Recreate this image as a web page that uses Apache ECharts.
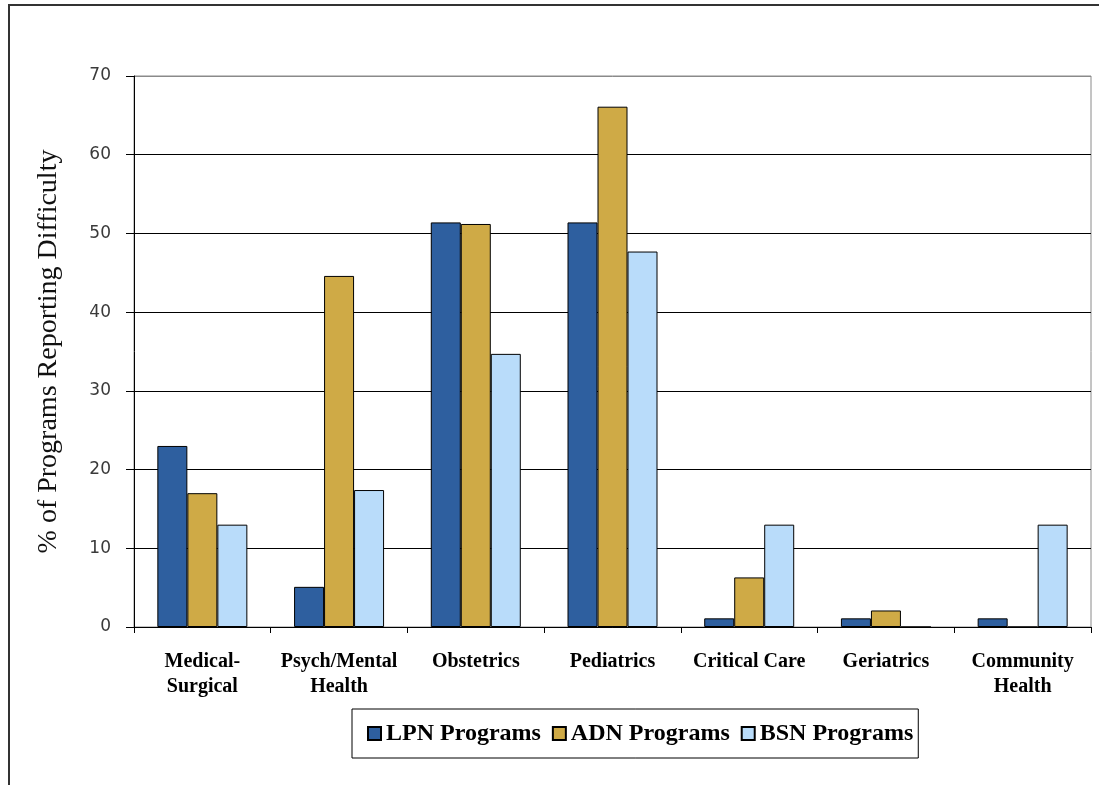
<!DOCTYPE html>
<html>
<head>
<meta charset="utf-8">
<script src="https://cdn.jsdelivr.net/npm/echarts@6/dist/echarts.min.js"></script>
<style>
html,body{margin:0;padding:0;background:#fff;}
#chart{width:1099px;height:785px;}
</style>
</head>
<body>
<div id="chart"></div>
<script>
var categories = ['Medical-\nSurgical', 'Psych/Mental\nHealth', 'Obstetrics', 'Pediatrics', 'Critical Care', 'Geriatrics', 'Community\nHealth'];
var seriesNames = ['LPN Programs', 'ADN Programs', 'BSN Programs'];
var lpnValues = [23.0, 5.1, 51.4, 51.4, 1.1, 1.1, 1.1];
var adnValues = [17.0, 44.6, 51.2, 66.1, 6.3, 2.1, 0];
var bsnValues = [13.0, 17.4, 34.7, 47.7, 13.0, 0, 13.0];
var yTicks = [0, 10, 20, 30, 40, 50, 60, 70];

var colors = ['#2E5F9F', '#CFAA46', '#B9DCFA'];
var serif = '"Liberation Serif", "Times New Roman", serif';

var chart = echarts.init(document.getElementById('chart'));
function mk(name, data, color) {
  return {
    name: name, type: 'bar', data: data, barWidth: 30, barGap: '0%',
    itemStyle: { color: color, borderColor: '#000', borderWidth: 1 }
  };
}
chart.setOption({
  animation: false,
  backgroundColor: '#fff',
  graphic: [{
    type: 'rect', silent: true, z: -1,
    shape: { x: 9, y: 5, width: 1300, height: 1000 },
    style: { fill: 'none', stroke: '#333', lineWidth: 2 }
  }],
  grid: { left: 134, right: 8, top: 76, bottom: 158, show: true, borderColor: '#8a8a8a', borderWidth: 1, containLabel: false },
  legend: {
    data: seriesNames, left: 352, top: 709,
    orient: 'horizontal', icon: 'rect', itemWidth: 13, itemHeight: 13, itemGap: 11,
    padding: [12, 5, 12, 15], borderColor: '#000', borderWidth: 1,
    textStyle: { fontFamily: serif, fontWeight: 'bold', fontSize: 24, lineHeight: 25, color: '#000' }
  },
  xAxis: {
    type: 'category', data: categories,
    axisLine: { lineStyle: { color: '#000', width: 1 } },
    axisTick: { show: true, length: 6, lineStyle: { color: '#000' } },
    axisLabel: { interval: 0, margin: 22, fontFamily: serif, fontWeight: 'bold', fontSize: 20, lineHeight: 25, color: '#000' }
  },
  yAxis: {
    type: 'value', min: 0, max: 70, interval: 10,
    name: '% of Programs Reporting Difficulty', nameLocation: 'middle', nameGap: 71,
    nameTextStyle: { fontFamily: serif, fontWeight: 'normal', fontSize: 28, color: '#111' },
    axisLine: { show: true, lineStyle: { color: '#000', width: 1 } },
    axisTick: { show: true, length: 8, lineStyle: { color: '#000' } },
    axisLabel: { margin: 23, fontFamily: '"DejaVu Sans", Verdana, sans-serif', fontSize: 17, color: '#3a3a3a',
      formatter: function (v) { return yTicks.indexOf(v) >= 0 ? String(v) : ''; } },
    splitLine: { show: true, lineStyle: { color: ['#000', '#000', '#000', '#000', '#000', '#000', '#000', '#8a8a8a'], width: 1 } }
  },
  series: [
    mk(seriesNames[0], lpnValues, colors[0]),
    mk(seriesNames[1], adnValues, colors[1]),
    mk(seriesNames[2], bsnValues, colors[2])
  ]
});
</script>
</body>
</html>
